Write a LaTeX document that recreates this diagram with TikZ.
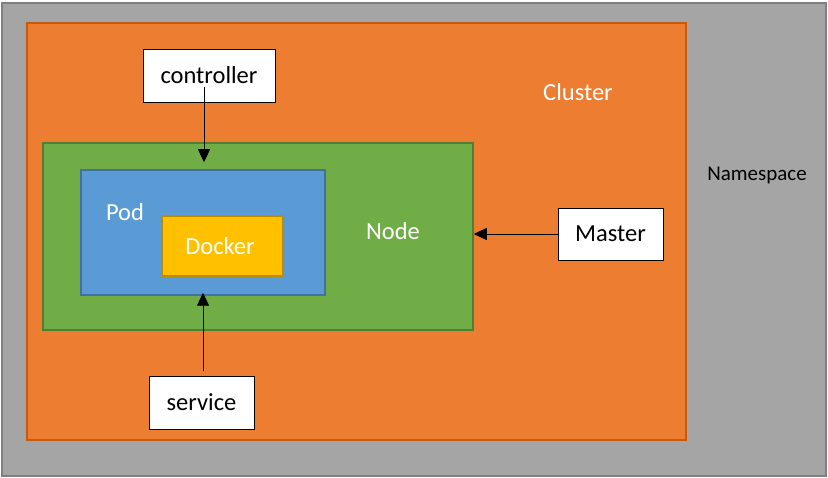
\documentclass[tikz,border=0pt]{standalone}
\usepackage{fontspec}
\setmainfont{Carlito}
\usetikzlibrary{positioning,calc,arrows.meta}
\definecolor{nsgray}{RGB}{165,165,165}
\definecolor{nsedge}{RGB}{127,127,127}
\definecolor{clorange}{RGB}{237,125,49}
\definecolor{cledge}{RGB}{197,90,17}
\definecolor{ndgreen}{RGB}{112,173,71}
\definecolor{ndedge}{RGB}{80,126,50}
\definecolor{podblue}{RGB}{91,155,213}
\definecolor{podedge}{RGB}{65,113,156}
\definecolor{dkyellow}{RGB}{255,192,0}
\definecolor{dkedge}{RGB}{188,140,0}

\begin{document}
\begin{tikzpicture}[
  x=1pt, y=-1pt,
  layer/.style={line width=1.5pt, inner sep=0pt},
  lbl/.style={text=white, font=\fontsize{24.5}{29}\selectfont, inner sep=0pt},
  wbox/.style={draw=black, fill=white, line width=0.8pt, inner sep=0pt, font=\fontsize{24.5}{29}\selectfont},
  flow/.style={-{Triangle[length=13pt,width=12pt]}, black, line width=0.8pt},
]
\useasboundingbox (0,0) rectangle (828,478);
\node[layer, draw=nsedge, fill=nsgray, minimum width=824, minimum height=473] (namespace) at (414,239.5) {};
\node[layer, draw=cledge, fill=clorange, minimum width=659, minimum height=417] (cluster) at (356.5,231.5) {};
\node[layer, draw=ndedge, fill=ndgreen, minimum width=430, minimum height=187] (nodebox) at (258,236.5) {};
\node[layer, draw=podedge, fill=podblue, minimum width=244, minimum height=125] (pod) at (203,232.5) {};
\node[layer, draw=dkedge, fill=dkyellow, minimum width=121, minimum height=60] (docker) at (222.5,246) {};
\node[lbl] (dockerlbl) at (220,246) {Docker};
\node[lbl] (podlbl) at (125,212) {Pod};
\node[lbl] (nodelbl) at (393,231) {Node};
\node[lbl] (clusterlbl) at (578,92) {Cluster};
\node[inner sep=0pt, font=\fontsize{21}{25}\selectfont] (nslbl) at (757,175) {Namespace};
\node[wbox, minimum width=132, minimum height=53] (controller) at (209,75.5) {controller};
\node[wbox, minimum width=105, minimum height=52] (master) at (610.5,234) {Master};
\node[wbox, minimum width=105, minimum height=53] (service) at (201.5,402.5) {service};
\draw[flow] ([xshift=-5pt,yshift=-12pt]controller.center) -- ([xshift=1pt,yshift=7pt]pod.north);
\draw[flow] ([xshift=1.5pt,yshift=5pt]service.north) -- ([yshift=3pt]pod.south);
\draw[flow] (master.west) -- (master.west -| nodebox.east);
\end{tikzpicture}
\end{document}
